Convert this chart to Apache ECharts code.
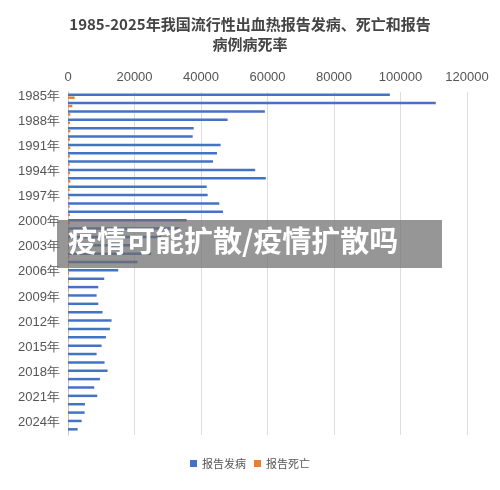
<!DOCTYPE html>
<html><head><meta charset="utf-8">
<script src="https://cdn.jsdelivr.net/npm/echarts@6/dist/echarts.min.js"></script>
<style>html,body{margin:0;padding:0;background:#fff}#c{width:500px;height:490px}</style>
</head><body><div id="c"></div>
<script>
var years = [];
for (var y = 1985; y <= 2025; y++) years.push(y + '年');
var cases = [96800,110600,59200,48000,37800,37500,45900,44800,43600,56300,59500,41700,42000,45500,46600,
35700,33700,28000,22000,25000,20900,15100,10900,9100,8600,9100,10400,13100,12600,11400,10100,8600,11000,11900,9600,7900,8800,5100,5000,4100,2900];
var deaths = [2000,1300,700,600,700,600,700,600,500,600,700,500,500,500,600,
500,500,400,400,400,300,300,200,200,150,150,150,150,150,150,100,100,100,100,100,100,100,80,80,60,40];
var chart = echarts.init(document.getElementById('c'));
chart.setOption({
  animation:false,
  title:{text:'1985-2025年我国流行性出血热报告发病、死亡和报告\n病例病死率',left:'center',top:9,
    textStyle:{fontSize:15,fontWeight:'bold',color:'#444',lineHeight:20,fontFamily:'Noto Sans CJK SC'}},
  legend:{bottom:16,itemWidth:7,itemHeight:7,icon:'rect',textStyle:{fontSize:11,color:'#555',fontFamily:'Noto Sans CJK SC'},
    data:['报告发病','报告死亡']},
  grid:{left:68,right:33,top:92,bottom:55},
  xAxis:{type:'value',position:'top',min:0,max:120000,interval:20000,
    axisLabel:{fontSize:13,color:'#555',fontFamily:'Liberation Sans',formatter:function(v){return String(v);}},
    axisLine:{show:false},axisTick:{show:false},
    splitLine:{lineStyle:{color:'#ddd'}}},
  yAxis:{type:'category',data:years,inverse:true,
    axisLabel:{interval:2,fontSize:13,color:'#555',fontFamily:'Liberation Sans'},
    axisTick:{show:false},axisLine:{lineStyle:{color:'#ccc'}}},
  series:[
    {name:'报告发病',type:'bar',data:cases,barWidth:2.5,barGap:'20%',itemStyle:{color:'#4472C4'}},
    {name:'报告死亡',type:'bar',data:deaths,barWidth:2.5,itemStyle:{color:'#ED7D31'}}
  ],
  graphic:[
    {type:'rect',left:57,top:220,shape:{width:385,height:48},style:{fill:'rgba(110,110,110,0.72)'},z:100},
    {type:'text',left:68,top:226,style:{text:'疫情可能扩散/疫情扩散吗',fill:'#fff',font:'bold 29px "Noto Sans CJK SC"'},z:101}
  ]
});
</script></body></html>
